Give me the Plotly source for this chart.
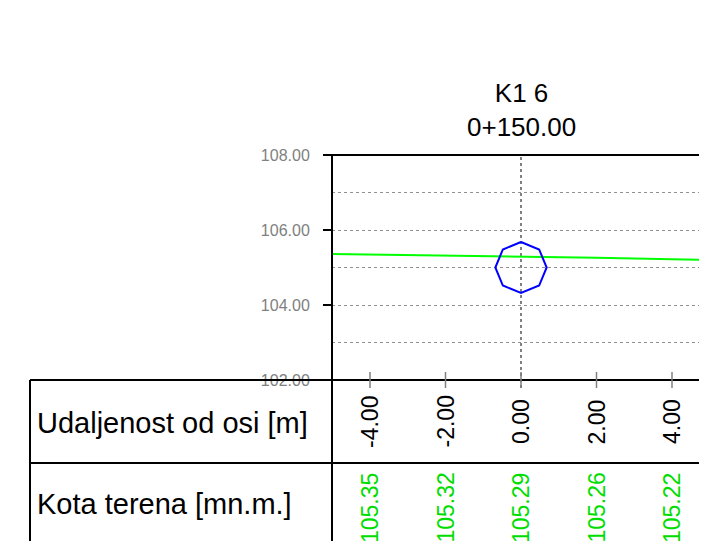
import numpy as np
import plotly.graph_objects as go

# ---- data ----
title_lines = ["K1 6", "0+150.00"]
row_labels = ["Udaljenost od osi [m]", "Kota terena [mn.m.]"]
stations = [-4.0, -2.0, 0.0, 2.0, 4.0]            # offsets from axis [m]
station_elev = [105.35, 105.32, 105.29, 105.26, 105.22]  # terrain elevations at stations
terrain_x = [-5.5, -4.0, -2.0, 0.0, 2.0, 4.0, 5.5]
terrain_y = [105.37, 105.35, 105.32, 105.29, 105.26, 105.22, 105.19]
pipe_center_x = 0.0
pipe_center_y = 105.0
pipe_radius = 0.68
pipe_sides = 8
y_ticks = [102, 104, 106, 108]

# page body has an 8px margin: figure origin is at (8, 8) on screen
OFF = 8
W, H = 707, 541
PL, PT, PB = 332, 155, 380           # plot area on screen
PW = W + OFF - PL                    # plot runs past the window's right edge
PH = PB - PT
FONT = "Liberation Sans, Arial, sans-serif"
GREEN_TXT = "#00dd00"

def px_x(p):  # screen pixel x -> paper
    return (p - PL) / PW

def px_y(p):  # screen pixel y -> paper
    return (PB - p) / PH

fig = go.Figure()

# terrain
fig.add_trace(go.Scatter(x=terrain_x, y=terrain_y, mode="lines",
                         line=dict(color="#00ff00", width=2), hoverinfo="skip"))

# pipe (octagon)
ang = np.linspace(np.pi / 2, np.pi / 2 + 2 * np.pi, pipe_sides + 1)
fig.add_trace(go.Scatter(x=pipe_center_x + pipe_radius * np.cos(ang),
                         y=pipe_center_y + pipe_radius * np.sin(ang),
                         mode="lines", line=dict(color="#0000ff", width=2),
                         hoverinfo="skip"))

shapes = []
# centre line
shapes.append(dict(type="line", xref="x", yref="paper", x0=0, x1=0,
                   y0=px_y(388), y1=1, line=dict(color="#808080", width=2, dash="dot"),
                   layer="below"))
# top border
shapes.append(dict(type="line", xref="paper", yref="paper", x0=px_x(325), x1=1,
                   y0=1, y1=1, line=dict(color="black", width=2)))
# bottom line / table top
shapes.append(dict(type="line", xref="paper", yref="paper", x0=px_x(30), x1=1,
                   y0=0, y1=0, line=dict(color="black", width=2)))
# table row divider
shapes.append(dict(type="line", xref="paper", yref="paper", x0=px_x(30), x1=1,
                   y0=px_y(463), y1=px_y(463), line=dict(color="black", width=2)))
# table left border
shapes.append(dict(type="line", xref="paper", yref="paper", x0=px_x(30), x1=px_x(30),
                   y0=px_y(560), y1=0, line=dict(color="black", width=2)))
# left axis line extended down through table
shapes.append(dict(type="line", xref="paper", yref="paper", x0=0, x1=0,
                   y0=px_y(560), y1=1, line=dict(color="black", width=2)))
# x ticks crossing the bottom line
for s in stations:
    shapes.append(dict(type="line", xref="x", yref="paper", x0=s, x1=s,
                       y0=px_y(388), y1=px_y(372), line=dict(color="#808080", width=1.5)))

annotations = []
annotations.append(dict(text="<br>".join(title_lines), xref="x", yref="paper",
                        x=0, y=px_y(144), xanchor="center", yanchor="bottom",
                        showarrow=False, font=dict(family=FONT, size=26, color="black")))
annotations.append(dict(text=row_labels[0], xref="paper", yref="paper",
                        x=px_x(35), y=px_y(422.5), xanchor="left", yanchor="middle",
                        showarrow=False, font=dict(family=FONT, size=29, color="black")))
annotations.append(dict(text=row_labels[1], xref="paper", yref="paper",
                        x=px_x(35), y=px_y(504), xanchor="left", yanchor="middle",
                        showarrow=False, font=dict(family=FONT, size=29, color="black")))
for s, e in zip(stations, station_elev):
    annotations.append(dict(text=f"{s:.2f}", xref="x", yref="paper", x=s, y=px_y(422),
                            xanchor="center", yanchor="middle", textangle=-90,
                            showarrow=False, font=dict(family=FONT, size=23, color="black")))
    annotations.append(dict(text=f"{e:.2f}", xref="x", yref="paper", x=s, y=px_y(508),
                            xanchor="center", yanchor="middle", textangle=-90,
                            showarrow=False, font=dict(family=FONT, size=23, color=GREEN_TXT)))

x_left = -4.0 - (370 - PL) / 37.75
x_right = x_left + PW / 37.75

fig.update_layout(
    width=W, height=H,
    margin=dict(l=PL - OFF, r=0, t=PT - OFF, b=H - (PB - OFF), pad=0),
    paper_bgcolor="white", plot_bgcolor="white",
    showlegend=False,
    shapes=shapes, annotations=annotations,
    xaxis=dict(range=[x_left, x_right], showgrid=False, zeroline=False, showline=False,
               showticklabels=False, ticks=""),
    yaxis=dict(range=[102, 108], tickvals=y_ticks, tickformat=".2f",
               showgrid=True, gridcolor="#909090", griddash="dot", gridwidth=1,
               zeroline=False, showline=False,
               ticks="outside", ticklen=8, tickcolor="black", tickwidth=2,
               tickfont=dict(family=FONT, size=16, color="#808080"),
               ticklabelstandoff=10,
               minor=dict(dtick=1, showgrid=True, gridcolor="#909090", griddash="dot",
                          gridwidth=1, ticks="")),
)

fig.write_html("out.html")
